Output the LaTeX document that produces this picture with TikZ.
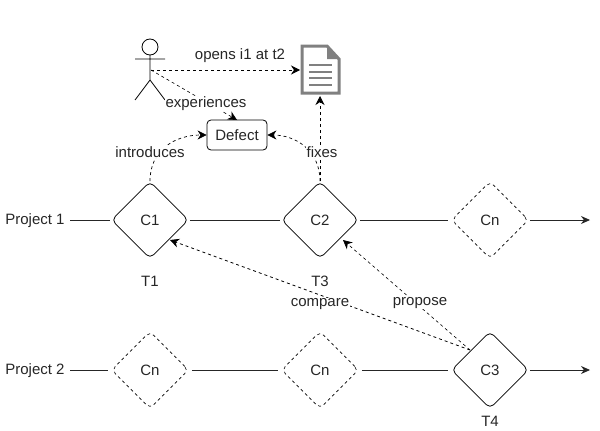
\documentclass[tikz,border=0pt]{standalone}
\usepackage{fontspec}
\setmainfont{Liberation Sans}
\usetikzlibrary{shapes.geometric,arrows.meta,calc}
\tikzset{
  dia/.style={shape=diamond,draw=black,line width=0.8pt,rounded corners=5pt,minimum width=77pt,minimum height=77pt,inner sep=0pt,font=\fontsize{15}{17}\selectfont,text=black!85},
  diadash/.style={dia,dash pattern=on 3pt off 3pt,line width=0.6pt},
  txt/.style={font=\fontsize{15}{17}\selectfont,inner sep=0.5pt,text=black!85},
  lbl/.style={txt,fill=white},
  flow/.style={line width=0.8pt,draw=black!85,-{Stealth[length=9pt,width=8pt]},shorten >=1pt},
  dep/.style={dash pattern=on 3pt off 3pt,line width=0.8pt,draw=black,-{Stealth[length=9pt,width=9pt]}},
  thin dep/.style={dep,line width=0.6pt},
  plain/.style={line width=0.8pt,draw=black!85},
  hollow/.style={shape=rectangle,inner sep=0pt},
}
\begin{document}
\begin{tikzpicture}[x=1pt,y=-1pt]
\useasboundingbox (0,0) rectangle (600,431);
% nodes
\node[dia] (c1) at (150,220) {C1};
\node[dia] (c2) at (320,220) {C2};
\node[diadash] (cn1) at (490,220) {Cn};
\node[diadash] (cn2) at (150,370) {Cn};
\node[diadash] (cn3) at (320,370) {Cn};
\node[dia] (c3) at (490,370) {C3};
\node[txt] (p1) at (35,221) {Project 1};
\node[txt] (p2) at (35,371) {Project 2};
\node[txt] (t1) at (150,281) {T1};
\node[txt] (t3) at (320,281) {T3};
\node[txt] (t4) at (490,421) {T4};
\node[draw=black,line width=0.8pt,rounded corners=4pt,minimum width=60pt,minimum height=30pt,inner sep=0pt,txt] (defect) at (237,135) {Defect};
\coordinate (end1) at (591,220);
\coordinate (end2) at (591,370);
% project lines
\draw[plain,shorten <=5pt,shorten >=1pt] (p1.east |- c1.west) -- (c1.west);
\draw[plain,shorten <=1pt,shorten >=1pt] (c1.east) -- (c2.west);
\draw[plain,shorten <=1pt,shorten >=3pt] (c2.east) -- (cn1.west);
\draw[flow,shorten <=1pt] (cn1.east) -- (end1);
\draw[plain,shorten <=5pt,shorten >=3pt] (p2.east |- cn2.west) -- (cn2.west);
\draw[plain,shorten <=3pt,shorten >=3pt] (cn2.east) -- (cn3.west);
\draw[plain,shorten <=3pt,shorten >=3pt] (cn3.east) -- (c3.west);
\draw[flow,shorten <=1pt] (c3.east) -- (end2);
% actor
\draw[line width=0.8pt] (150,47) circle (8);
\draw[line width=0.8pt] (150,55) -- (150,80) (135,59) -- (165,59) (135,100) -- (150,80) -- (165,100);
\coordinate (hub) at (151,70);
% document
\node[hollow,minimum width=38pt,minimum height=48pt] (doc) at (320.5,70) {};
\draw[line width=3pt,draw=black!50,line join=miter] (302,46) -- (327,46) -- (339,59) -- (339,93) -- (302,93) -- cycle;
\fill[black!50] (327,46) -- (339,59) -- (327,59) -- cycle;
\foreach \yy in {65,71.5,78,84.5} \draw[line width=2pt,draw=black!50] (309,\yy) -- (332,\yy);
\coordinate (docw) at (300,70);
\coordinate (docs) at (320,96);
\coordinate (dnw) at (237,120);
\coordinate (c3a) at (470,350);
\coordinate (c1se) at (170,240);
\coordinate (c2se) at (343,240);
% dependencies
\draw[dep] (hub) -- (docw);
\draw[thin dep] (hub) -- (dnw);
\draw[dep,line width=0.7pt] (c1.north) .. controls (150,150) and (175,135) .. (defect.west);
\draw[dep,line width=0.7pt] (c2.north) .. controls (320,150) and (295,135) .. (defect.east);
\draw[dep,line width=0.7pt] (c2.north) -- (docs);
\draw[dep] (c3a) -- (c1se);
\draw[thin dep] (c3a) -- (c2se);
% labels
\node[txt] (l1) at (240,56) {opens i1 at t2};
\node[lbl] (l2) at (206,104) {experiences};
\node[lbl] (l3) at (150,152) {introduces};
\node[lbl] (l4) at (322,152) {fixes};
\node[lbl] (l5) at (320,304) {compare};
\node[lbl] (l6) at (420,303) {propose};
\end{tikzpicture}
\end{document}
